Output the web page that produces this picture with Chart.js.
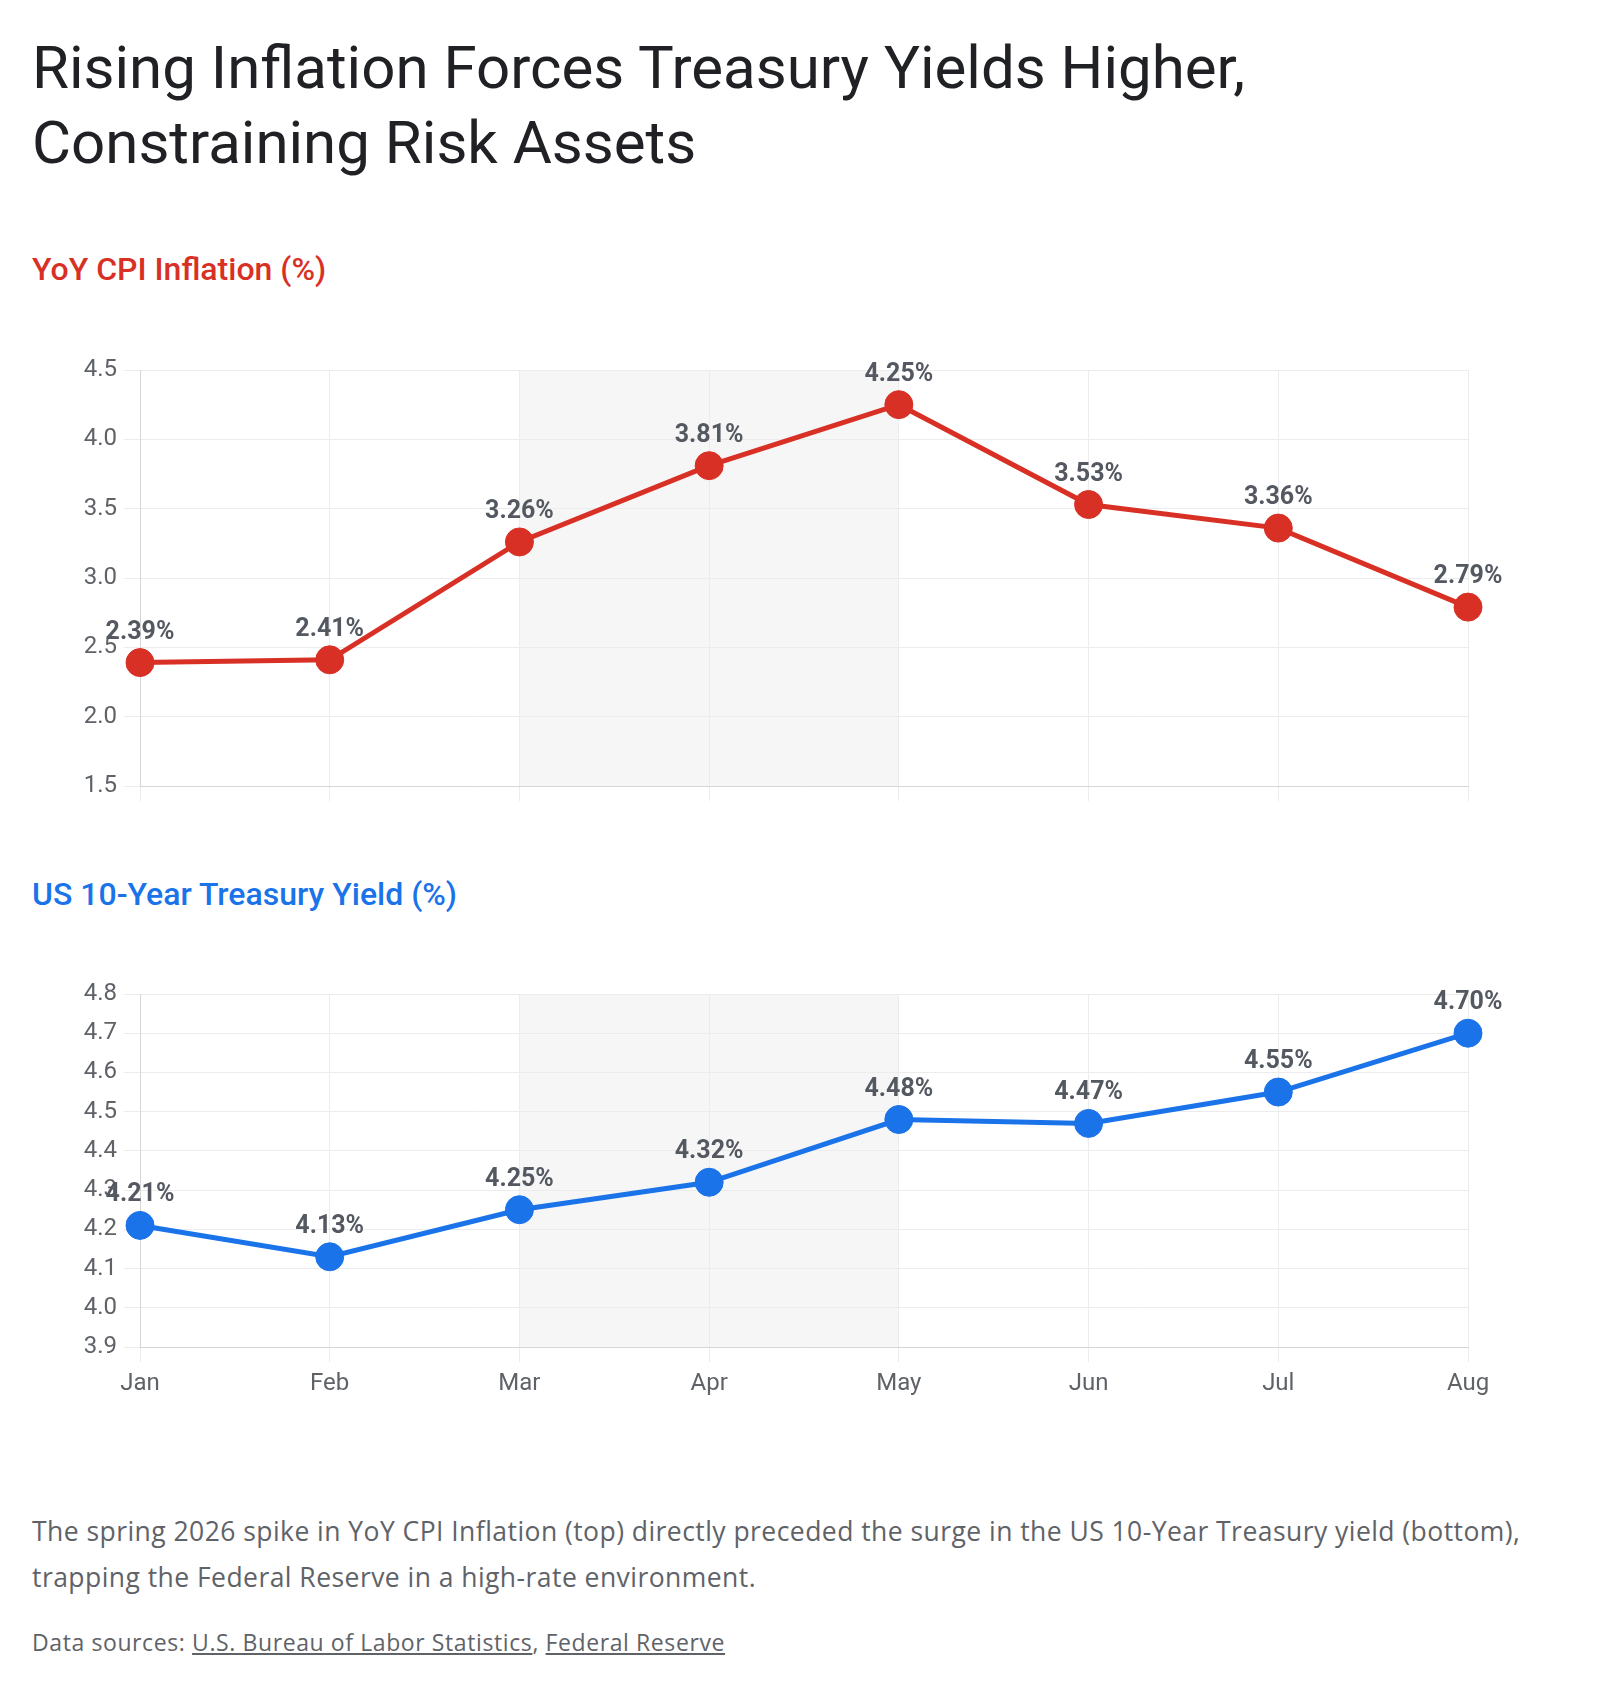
<!DOCTYPE html>
<html>
<head>
<meta charset="utf-8">
<script src="https://cdn.jsdelivr.net/npm/chart.js"></script>
<style>
body{margin:0;background:#fff;font-family:Roboto,"Noto Sans",sans-serif;}
#page{position:relative;width:1600px;height:1690px;}
.abs{position:absolute;left:32px;}
#title{top:30px;font-size:60px;line-height:75px;color:#202124;font-weight:400;}
.sub{font-size:32px;line-height:40px;font-weight:500;}
#sub1{top:249px;color:#d93025;}
#sub2{top:874px;color:#1a73e8;}
canvas{position:absolute;left:0;}
#cpiChart{top:300px;}
#yieldChart{top:930px;}
#caption{top:1508px;font-family:"Open Sans",sans-serif;font-size:26.5px;letter-spacing:0.45px;line-height:46px;color:#5f6368;}
#sources{top:1627px;font-family:"Open Sans",sans-serif;font-size:23px;letter-spacing:0.6px;line-height:30px;color:#5f6368;}
#sources a{color:#5f6368;text-decoration:underline;}
</style>
</head>
<body>
<div id="page">
<div id="title" class="abs">Rising Inflation Forces Treasury Yields Higher,<br>Constraining Risk Assets</div>
<div id="sub1" class="abs sub">YoY CPI Inflation (%)</div>
<canvas id="cpiChart" width="1600" height="508"></canvas>
<div id="sub2" class="abs sub">US 10-Year Treasury Yield (%)</div>
<canvas id="yieldChart" width="1600" height="470"></canvas>
<div id="caption" class="abs">The spring 2026 spike in YoY CPI Inflation (top) directly preceded the surge in the US 10-Year Treasury yield (bottom),<br>trapping the Federal Reserve in a high-rate environment.</div>
<div id="sources" class="abs">Data sources: <a href="#">U.S. Bureau of Labor Statistics</a>, <a href="#">Federal Reserve</a></div>
</div>
<script>

let months=["Jan","Feb","Mar","Apr","May","Jun","Jul","Aug"]

let cpiValues=[2.39,2.41,3.26,3.81,4.25,3.53,3.36,2.79]

let yieldValues=[4.21,4.13,4.25,4.32,4.48,4.47,4.55,4.70]

let cpiTicks=[1.5,2.0,2.5,3.0,3.5,4.0,4.5]

let yieldTicks=[3.9,4.0,4.1,4.2,4.3,4.4,4.5,4.6,4.7,4.8]

let shadeFrom="Mar"
let shadeTo="May"

Chart.defaults.font.family="Roboto"
Chart.defaults.color="#5f6368"

let shadePlugin={
id:"shade",
beforeDraw(chart){
let x=chart.scales.x
let area=chart.chartArea
let ctx=chart.ctx
let x1=x.getPixelForValue(months.indexOf(shadeFrom))
let x2=x.getPixelForValue(months.indexOf(shadeTo))
ctx.save()
ctx.fillStyle="#f6f6f6"
ctx.fillRect(x1,area.top,x2-x1,area.bottom-area.top)
ctx.restore()
}
}

let labelPlugin={
id:"pointLabels",
afterDatasetsDraw(chart){
let ctx=chart.ctx
let meta=chart.getDatasetMeta(0)
let data=chart.data.datasets[0].data
ctx.save()
ctx.font="bold 25px Roboto"
ctx.fillStyle="#545961"
ctx.textAlign="center"
ctx.textBaseline="alphabetic"
meta.data.forEach((pt,i)=>{
ctx.fillText(data[i].toFixed(2)+"%",pt.x,pt.y-24)
})
ctx.restore()
}
}

function makeChart(id,values,color,ticks,showLabels,padTop,xHeight){

return new Chart(document.getElementById(id),{
type:"line",
data:{
labels:months,
datasets:[{
data:values,
borderColor:color,
backgroundColor:color,
borderWidth:5,
pointRadius:14,
pointHoverRadius:14,
pointBorderWidth:1,
pointBackgroundColor:color,
pointBorderColor:color,
tension:0,
clip:false
}]
},
options:{
responsive:false,
animation:false,
layout:{padding:{top:padTop,right:132,left:0,bottom:0}},
plugins:{legend:{display:false},tooltip:{enabled:false}},
scales:{
x:{
grid:{color:"#ececec",tickLength:15,drawTicks:true},
border:{color:"#d6d6d6"},
ticks:{display:showLabels,padding:8,font:{size:24},color:"#5f6368"},
afterFit(scale){scale.height=xHeight}
},
y:{
min:ticks[0],
max:ticks[ticks.length-1],
afterBuildTicks(scale){scale.ticks=ticks.map(v=>({value:v}))},
grid:{color:"#ececec",tickLength:16},
border:{color:"#d6d6d6"},
ticks:{padding:7,font:{size:24},color:"#5f6368",callback:v=>Number(v).toFixed(1)},
afterFit(scale){scale.width=140}
}
}
},
plugins:[shadePlugin,labelPlugin]
})

}

makeChart("cpiChart",cpiValues,"#d93025",cpiTicks,false,70,22)

makeChart("yieldChart",yieldValues,"#1a73e8",yieldTicks,true,64,53)

</script>
</body>
</html>
